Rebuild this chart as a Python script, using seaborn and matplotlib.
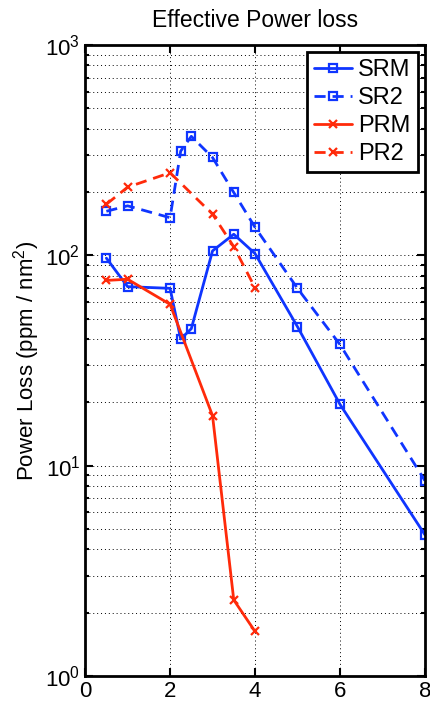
#!/usr/bin/env python
"""
Effective power loss versus x, log y-axis, four series.
"""
# Third-party
import matplotlib

matplotlib.use("Agg")
import matplotlib.pyplot as plt  # noqa: E402
import matplotlib.ticker as ticker  # noqa: E402
import pandas as pd  # noqa: E402
import seaborn as sns  # noqa: E402

# Data
SRM_X = [0.5, 1, 2, 2.25, 2.5, 3, 3.5, 4, 5, 6, 8]
SRM_Y = [97, 71, 69.7, 40, 44.8, 105, 126, 102, 45.8, 19.6, 4.7]
SR2_X = [0.5, 1, 2, 2.25, 2.5, 3, 3.5, 4, 5, 6, 8]
SR2_Y = [162, 172, 151, 313, 368, 292, 199, 136, 69.7, 37.7, 8.5]
PRM_X = [0.5, 1, 2, 3, 3.5, 4]
PRM_Y = [76, 77, 58.5, 17.3, 2.3, 1.63]
PR2_X = [0.5, 1, 2, 3, 3.5, 4]
PR2_Y = [175, 211, 247, 157, 110, 70.2]

X_TICKS = [0, 2, 4, 6, 8]

BLUE = "#0f35ff"
RED = "#ff2a0a"


def main():
    sns.set_style("ticks")
    plt.rcParams["font.family"] = ["Liberation Sans", "DejaVu Sans"]
    plt.rcParams["mathtext.fontset"] = "custom"
    plt.rcParams["mathtext.rm"] = "Liberation Sans"
    plt.rcParams["text.color"] = "black"
    plt.rcParams["axes.labelcolor"] = "black"

    fig = plt.figure(figsize=(4.3, 7.09), dpi=100)
    ax = fig.add_axes([0.198, 0.0465, 0.79, 0.89])

    series = [
        ("SRM", SRM_X, SRM_Y, BLUE, "-", "s"),
        ("SR2", SR2_X, SR2_Y, BLUE, (0, (4, 2.5)), "s"),
        ("PRM", PRM_X, PRM_Y, RED, "-", "x"),
        ("PR2", PR2_X, PR2_Y, RED, (0, (4, 2.5)), "x"),
    ]
    for name, xs, ys, color, ls, marker in series:
        data = pd.DataFrame({"x": xs, "y": ys})
        sns.lineplot(
            data,
            x="x",
            y="y",
            ax=ax,
            color=color,
            linestyle=ls,
            linewidth=2,
            marker=marker,
            markersize=6,
            markerfacecolor="none" if marker == "s" else color,
            markeredgecolor=color,
            markeredgewidth=1.6,
            label=name,
            sort=False,
        )

    ax.set_yscale("log")
    ax.set_xlim(0, 8)
    ax.set_ylim(1, 1000)
    ax.set_xticks(X_TICKS)
    ax.xaxis.set_major_formatter(ticker.FormatStrFormatter("%d"))
    ax.yaxis.set_major_locator(ticker.LogLocator(base=10, numticks=10))
    ax.yaxis.set_minor_locator(
        ticker.LogLocator(base=10, subs=range(2, 10), numticks=10)
    )
    ax.yaxis.set_minor_formatter(ticker.NullFormatter())

    ax.grid(True, which="major", axis="both", color="black",
            linestyle=(0, (1, 3)), linewidth=0.7)
    ax.grid(True, which="minor", axis="y", color="black",
            linestyle=(0, (1, 3)), linewidth=0.7)

    for spine in ax.spines.values():
        spine.set_visible(True)
        spine.set_linewidth(2)
        spine.set_color("black")
    ax.tick_params(which="both", direction="in", top=True, right=True,
                   width=1.5, labelsize=16, colors="black")
    ax.tick_params(which="major", length=6)
    ax.tick_params(which="minor", length=3)

    ax.set_title("Effective Power loss", fontsize=16.5, pad=13,
                 color="black")
    ax.set_xlabel("")
    ax.set_ylabel("Power Loss (ppm / nm$^2$)", fontsize=16, labelpad=2,
                  color="black")

    leg = ax.legend(loc="upper right", fontsize=17, frameon=True,
                    fancybox=False, borderaxespad=0.3, handlelength=1.6,
                    labelspacing=0.25, borderpad=0.3, handletextpad=0.25)
    leg.get_frame().set_edgecolor("black")
    leg.get_frame().set_linewidth(2)
    leg.get_frame().set_alpha(1)
    for text in leg.get_texts():
        text.set_color("black")

    fig.savefig("out.png", dpi=100)


if __name__ == "__main__":
    main()
